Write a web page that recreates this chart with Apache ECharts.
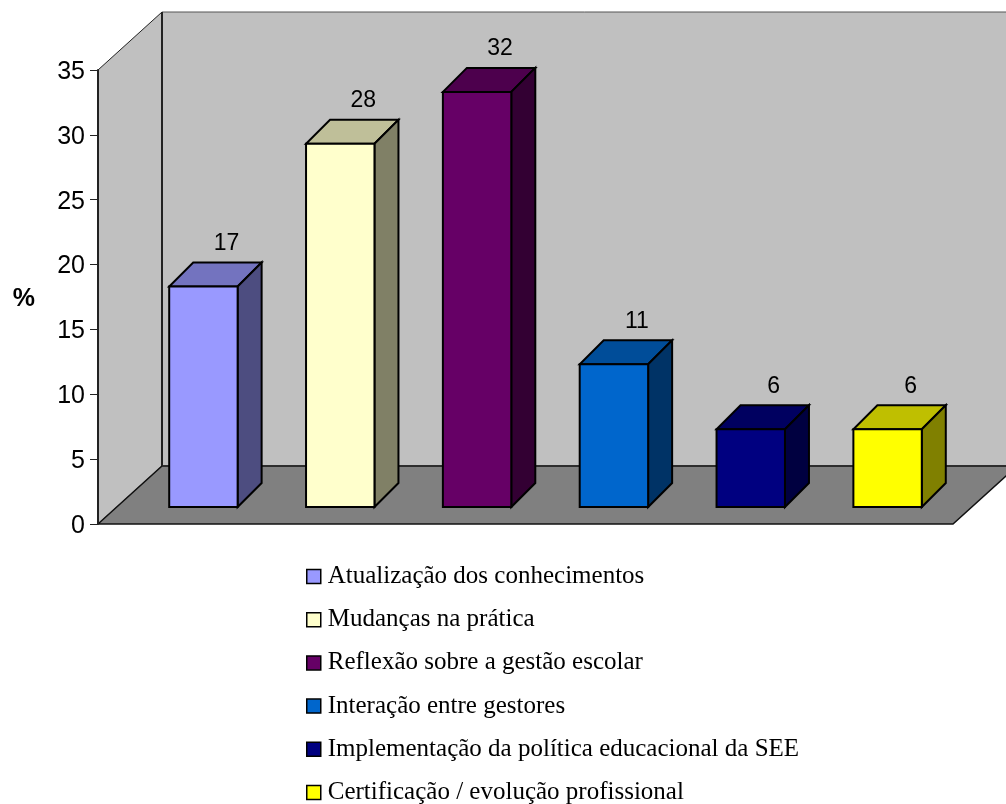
<!DOCTYPE html>
<html>
<head>
<meta charset="utf-8">
<style>html,body{margin:0;padding:0;background:#fff}#chart{width:1006px;height:804px}</style>
<script src="https://cdn.jsdelivr.net/npm/echarts@6/dist/echarts.min.js"></script>
</head>
<body>
<div id="chart"></div>
<script>
// Survey answers, in percent
const categories = [
  'Atualização dos conhecimentos',
  'Mudanças na prática',
  'Reflexão sobre a gestão escolar',
  'Interação entre gestores',
  'Implementação da política educacional da SEE',
  'Certificação / evolução profissional'
];
const percentages = [17, 28, 32, 11, 6, 6];
const palette = ['#9999FF', '#FFFFCC', '#660066', '#0066CC', '#000080', '#FFFF00'];
const tickStep = 5;
const axisMax = 35;

// Perspective offsets of the box: room depth and bar depth
const ROOM_DX = 64, ROOM_DY = -58;
const BAR_DEPTH = 24;

function shade(hex, k) {
  const n = parseInt(hex.slice(1), 16);
  const c = [n >> 16, (n >> 8) & 255, n & 255].map(v => Math.round(v * k));
  return 'rgb(' + c.join(',') + ')';
}

function poly(points, fill, stroke, width) {
  return {
    type: 'polygon',
    shape: { points: points },
    style: { fill: fill, stroke: stroke, lineWidth: width, lineJoin: 'miter' }
  };
}

// Side wall, back wall and floor of the chart box
function renderRoom(params) {
  const g = params.coordSys;
  const l = g.x, r = g.x + g.width, t = g.y, b = g.y + g.height;
  const dx = ROOM_DX, dy = ROOM_DY;
  return {
    type: 'group',
    children: [
      poly([[l + dx, t + dy], [r + dx, t + dy], [r + dx, b + dy], [l + dx, b + dy]], '#C0C0C0', '#555', 1),
      poly([[l, t], [l + dx, t + dy], [l + dx, b + dy], [l, b]], '#C0C0C0', '#222', 1),
      poly([[l, b], [l + dx, b + dy], [r + dx, b + dy], [r, b]], '#808080', '#111', 1.5),
      { type: 'line', shape: { x1: l + dx, y1: t + dy, x2: l + dx, y2: b + dy }, style: { stroke: '#222', lineWidth: 2 } }
    ]
  };
}

// One three-dimensional column: front, top and side faces plus its value label
function renderColumn(params, api) {
  const cat = api.value(0), val = api.value(1);
  const top = api.coord([cat, val]);
  const base = api.coord([cat, 0]);
  const w = api.size([1, 0])[0] * 0.5;
  const x0 = top[0] - w / 2, x1 = top[0] + w / 2;
  const y0 = top[1], y1 = base[1];
  const d = BAR_DEPTH;
  const color = palette[params.seriesIndex - 1];
  return {
    type: 'group',
    children: [
      poly([[x0, y0], [x1, y0], [x1 + d, y0 - d], [x0 + d, y0 - d]], shade(color, 0.75), '#000', 2),
      poly([[x1, y0], [x1 + d, y0 - d], [x1 + d, y1 - d], [x1, y1]], shade(color, 0.5), '#000', 2),
      poly([[x0, y0], [x1, y0], [x1, y1], [x0, y1]], color, '#000', 2),
      {
        type: 'text',
        style: {
          x: top[0] + d - 1,
          y: y0 - d - 19,
          text: String(val),
          fill: '#000',
          font: '23px "Liberation Sans"',
          align: 'center',
          verticalAlign: 'middle'
        }
      }
    ]
  };
}

const columnSeries = categories.map((name, i) => ({
  name: name,
  type: 'custom',
  xAxisIndex: 1,
  yAxisIndex: 1,
  z: 4,
  silent: true,
  itemStyle: { color: palette[i] },
  encode: { x: 0, y: 1 },
  data: [[i, percentages[i]]],
  renderItem: renderColumn
}));

const chart = echarts.init(document.getElementById('chart'), null, { renderer: 'canvas' });
chart.setOption({
  animation: false,
  backgroundColor: '#fff',
  // Front plane of the box, plane of the columns, and the tick-label plane
  grid: [
    { left: 98, top: 70, width: 855, height: 454, outerBoundsMode: 'none' },
    { left: 135, top: 53, width: 821, height: 454, outerBoundsMode: 'none' },
    { left: 98, top: 72, width: 855, height: 454, outerBoundsMode: 'none' }
  ],
  xAxis: [
    { type: 'category', gridIndex: 0, data: categories, show: false },
    { type: 'category', gridIndex: 1, data: categories, show: false },
    { type: 'category', gridIndex: 2, data: categories, show: false }
  ],
  yAxis: [
    {
      type: 'value', gridIndex: 0, min: 0, max: axisMax, interval: tickStep, z: 3,
      axisLine: { show: true, lineStyle: { color: '#222', width: 2 } },
      axisTick: { show: true, length: 8, lineStyle: { color: '#222', width: 1 } },
      axisLabel: { show: false },
      splitLine: { show: false }
    },
    { type: 'value', gridIndex: 1, min: 0, max: axisMax, interval: tickStep, show: false, splitLine: { show: false } },
    {
      type: 'value', gridIndex: 2, min: 0, max: axisMax, interval: tickStep, z: 3,
      name: '%', nameLocation: 'middle', nameRotate: 0, nameGap: 63,
      nameTextStyle: { fontFamily: 'Liberation Sans', fontWeight: 'bold', fontSize: 25, color: '#000' },
      axisLine: { show: false },
      axisTick: { show: false },
      axisLabel: { fontFamily: 'Liberation Sans', fontSize: 25, color: '#000', margin: 13 },
      splitLine: { show: false }
    }
  ],
  legend: {
    data: categories,
    orient: 'vertical',
    left: 301,
    top: 559,
    height: 245,
    itemWidth: 14,
    itemHeight: 14,
    itemGap: 18.2,
    icon: 'rect',
    selectedMode: false,
    itemStyle: { borderColor: '#000', borderWidth: 1.5 },
    textStyle: { fontFamily: 'Liberation Serif', fontSize: 25, color: '#000', padding: [0, 0, 0, 2] }
  },
  series: [
    {
      name: 'room',
      type: 'custom',
      xAxisIndex: 0,
      yAxisIndex: 0,
      z: 1,
      silent: true,
      data: [[0, 0]],
      renderItem: renderRoom
    }
  ].concat(columnSeries)
});
</script>
</body>
</html>
